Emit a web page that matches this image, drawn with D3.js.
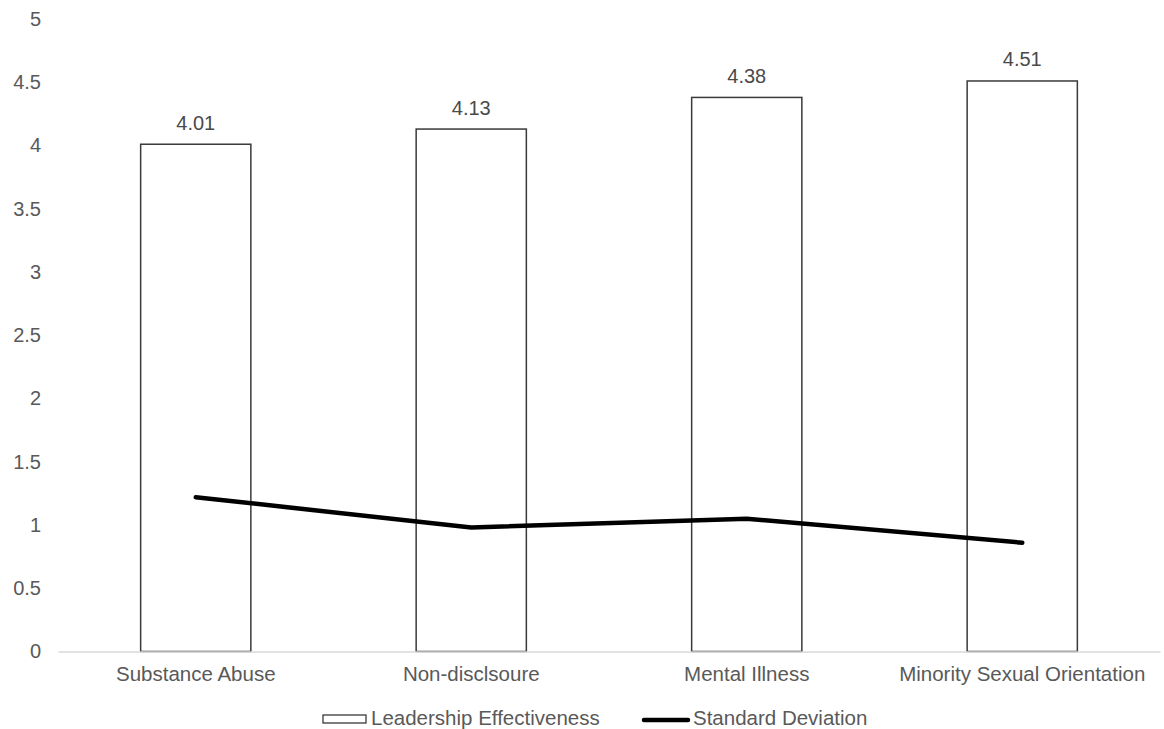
<!DOCTYPE html>
<html>
<head>
<meta charset="utf-8">
<script src="https://cdn.jsdelivr.net/npm/d3@7"></script>
<style>
  html, body { margin: 0; padding: 0; background: #fff; }
  svg { display: block; font-family: "Liberation Sans", Arial, Helvetica, sans-serif; }
</style>
</head>
<body>
<svg id="chart" width="1164" height="729"></svg>
<script>
// Categories and series
const categories = ["Substance Abuse", "Non-disclsoure", "Mental Illness", "Minority Sexual Orientation"];
const effectiveness = [4.01, 4.13, 4.38, 4.51];
const stdDeviation = [1.22, 0.98, 1.05, 0.86];
const yTicks = [0, 0.5, 1, 1.5, 2, 2.5, 3, 3.5, 4, 4.5, 5];
const seriesNames = ["Leadership Effectiveness", "Standard Deviation"];

const svg = d3.select("#chart");
const plotLeft = 58, plotRight = 1160, plotTop = 19, plotBottom = 651.5;
const textColor = "#595959";

const x = d3.scaleBand().domain(categories).range([plotLeft, plotRight]).padding(0);
const y = d3.scaleLinear().domain([0, 5]).range([plotBottom, plotTop]);
const barW = x.bandwidth() * 0.4;

// Y axis labels (no axis line, no ticks)
const yAxis = d3.axisLeft(y).tickValues(yTicks).tickSize(0).tickPadding(0)
  .tickFormat(d => d3.format("~g")(d));
svg.append("g")
  .attr("transform", `translate(${plotLeft - 17},0)`)
  .call(yAxis)
  .call(g => g.select(".domain").remove())
  .call(g => g.selectAll("text")
    .attr("fill", textColor)
    .style("font-size", "20px")
    .style("font-family", "'Liberation Sans', Arial, sans-serif"));

// Bars
svg.append("g").selectAll("rect")
  .data(categories)
  .join("rect")
  .attr("x", (d) => x(d) + (x.bandwidth() - barW) / 2)
  .attr("y", (d, i) => y(effectiveness[i]))
  .attr("width", barW)
  .attr("height", (d, i) => y(0) - y(effectiveness[i]))
  .attr("fill", "#ffffff")
  .attr("stroke", "#3a3a3a")
  .attr("stroke-width", 1.5);

// Bar value labels
svg.append("g").selectAll("text")
  .data(categories)
  .join("text")
  .attr("x", d => x(d) + x.bandwidth() / 2)
  .attr("y", (d, i) => y(effectiveness[i]) - 14.5)
  .attr("text-anchor", "middle")
  .attr("fill", "#4a4a4a")
  .style("font-size", "20px")
  .text((d, i) => effectiveness[i].toFixed(2));

// X axis baseline and category labels
const xAxis = d3.axisBottom(x).tickSize(0).tickPadding(0);
svg.append("g")
  .attr("transform", `translate(0,${plotBottom})`)
  .call(xAxis)
  .call(g => g.select(".domain").attr("stroke", "#d9d9d9").attr("stroke-width", 1.5))
  .call(g => g.selectAll("text")
    .attr("fill", textColor)
    .attr("dy", "1.45em")
    .style("font-size", "20.5px")
    .style("font-family", "'Liberation Sans', Arial, sans-serif"));

// Standard deviation line
const line = d3.line()
  .x((d, i) => x(categories[i]) + x.bandwidth() / 2)
  .y(d => y(d));
svg.append("path")
  .datum(stdDeviation)
  .attr("d", line)
  .attr("fill", "none")
  .attr("stroke", "#000")
  .attr("stroke-width", 4.5)
  .attr("stroke-linecap", "round")
  .attr("stroke-linejoin", "round");

// Legend
const legend = svg.append("g").style("font-size", "20.5px");
legend.append("rect")
  .attr("x", 323).attr("y", 715).attr("width", 43).attr("height", 8)
  .attr("fill", "#fff").attr("stroke", "#3a3a3a").attr("stroke-width", 1.3);
legend.append("text")
  .attr("x", 371).attr("y", 725).attr("fill", textColor)
  .text(seriesNames[0]);
legend.append("line")
  .attr("x1", 644).attr("x2", 688).attr("y1", 720).attr("y2", 720)
  .attr("stroke", "#000").attr("stroke-width", 4.5).attr("stroke-linecap", "round");
legend.append("text")
  .attr("x", 693).attr("y", 725).attr("fill", textColor)
  .text(seriesNames[1]);
</script>
</body>
</html>
